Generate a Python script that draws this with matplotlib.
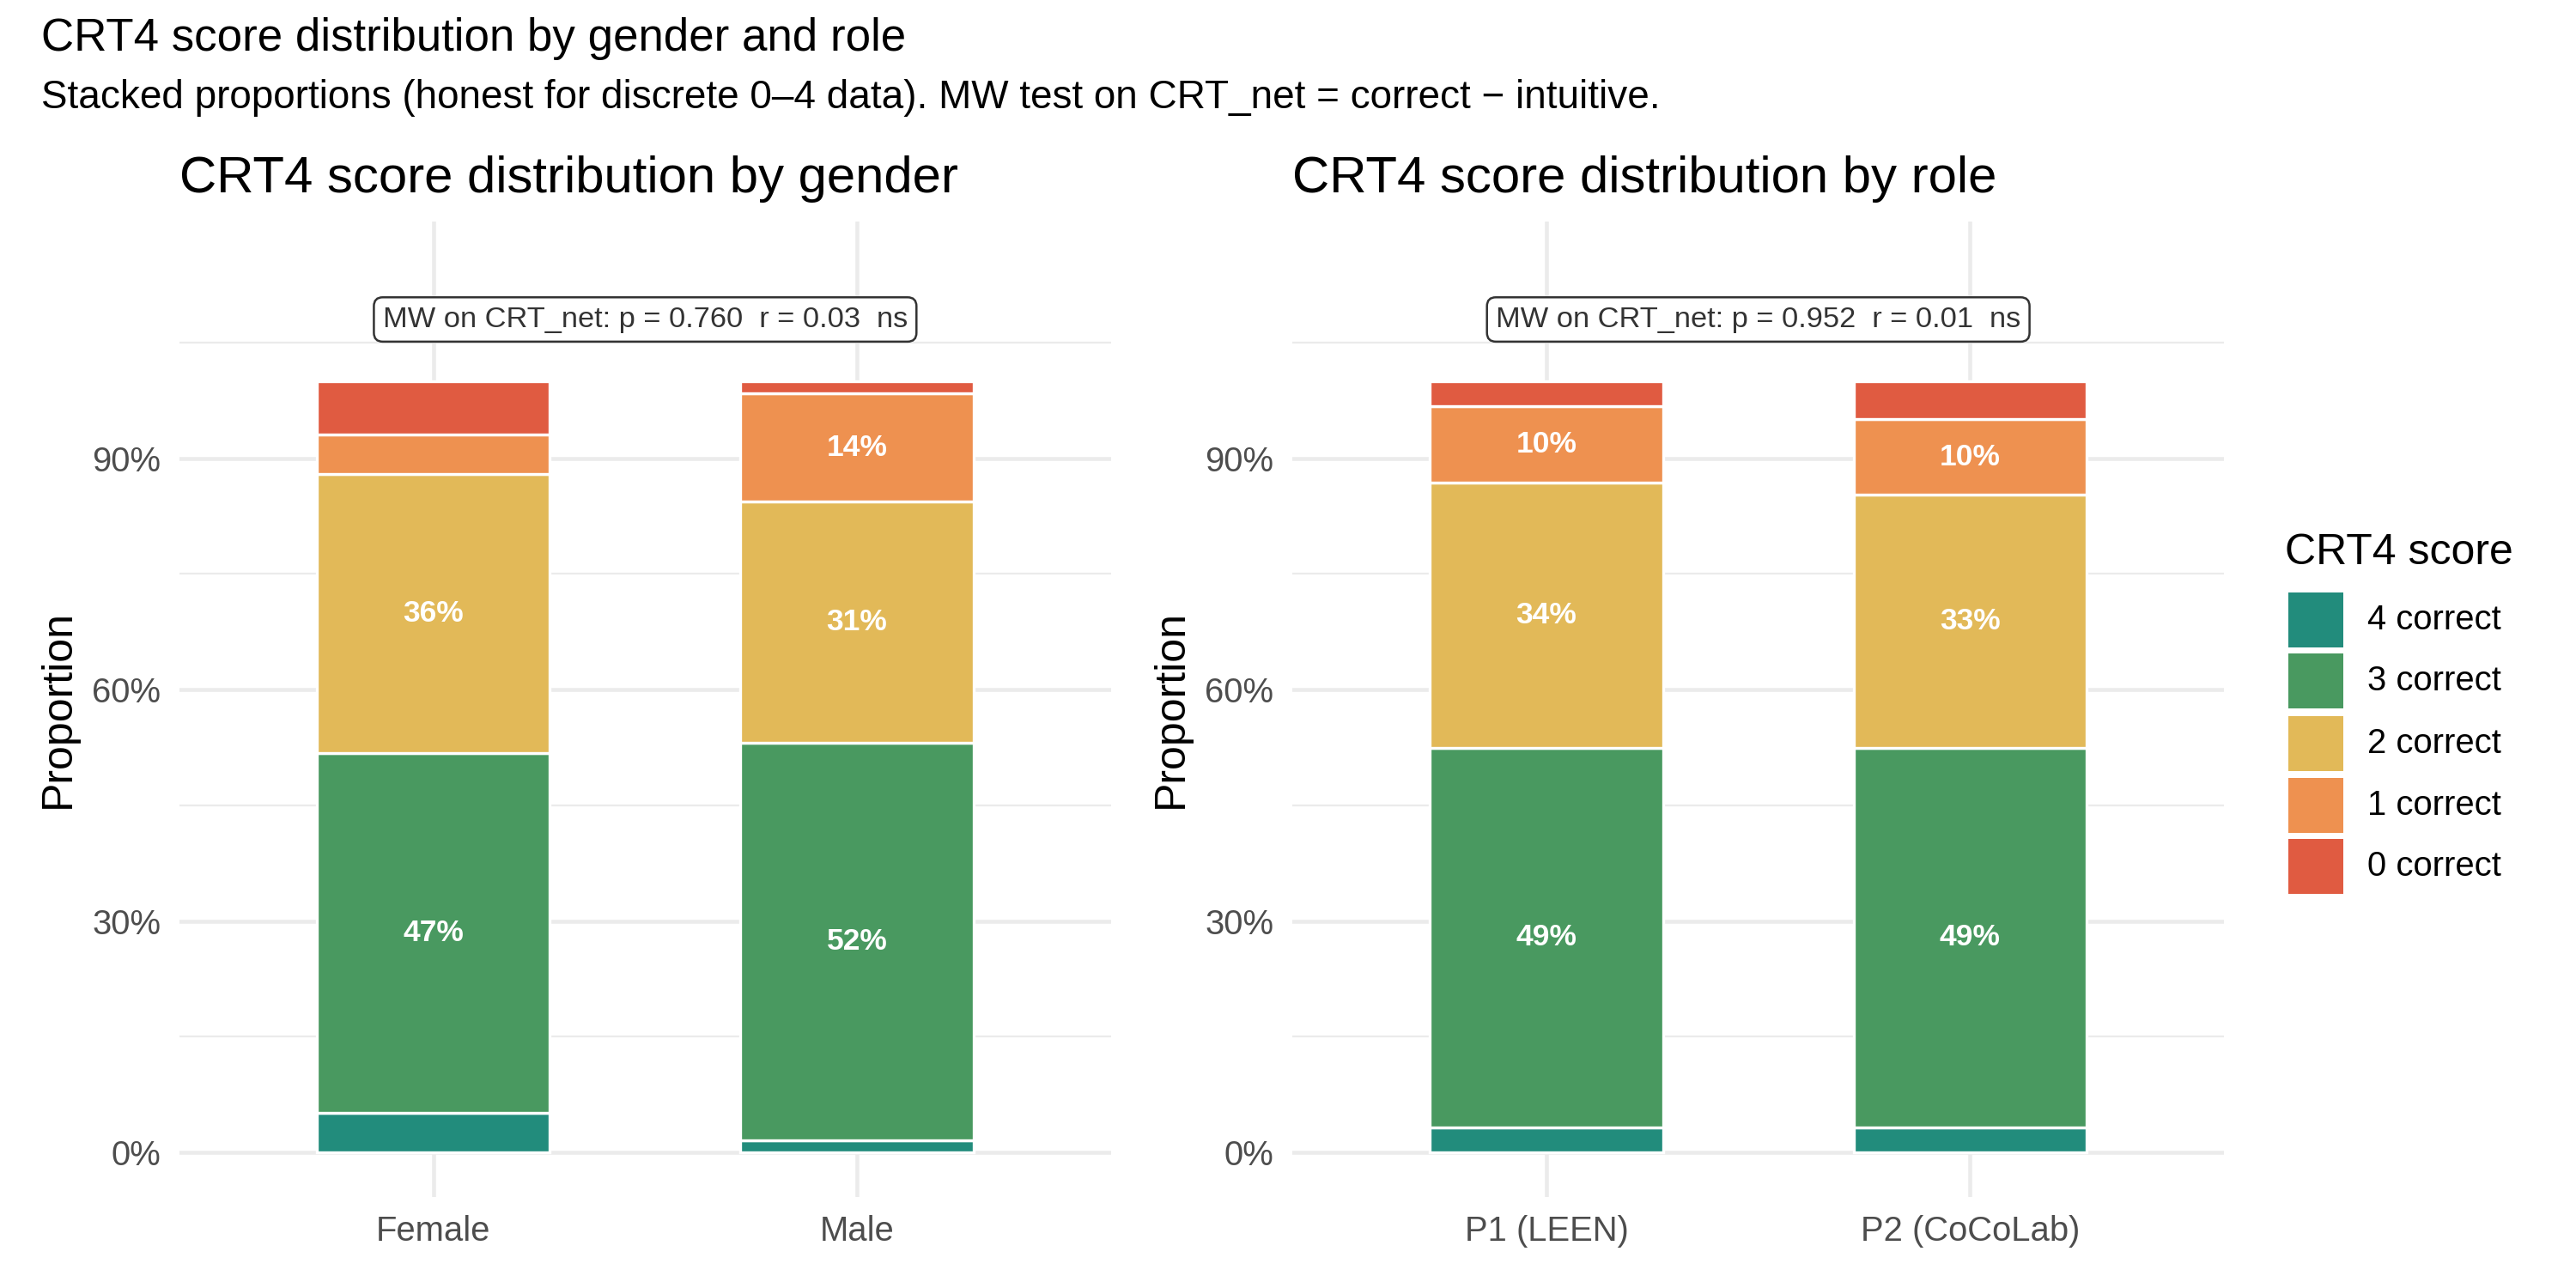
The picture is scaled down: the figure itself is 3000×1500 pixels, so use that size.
"""CRT4 score distribution by gender and role: stacked proportion bars, two panels."""
import numpy as np
import matplotlib
matplotlib.use("Agg")
import matplotlib.pyplot as plt
from matplotlib.patches import Rectangle
from matplotlib.ticker import FixedLocator, PercentFormatter

plt.rcParams["font.family"] = ["Liberation Sans", "DejaVu Sans"]

# score levels, bottom -> top of the stack
score_levels = ["4 correct", "3 correct", "2 correct", "1 correct", "0 correct"]
score_colors = ["#228C7C", "#499960", "#E2B958", "#EE9150", "#E05B41"]

# counts per score level (same order as score_levels)
gender_groups = ["Female", "Male"]
female_counts = [3, 27, 21, 3, 4]
male_counts = [1, 33, 20, 9, 1]

role_groups = ["P1 (LEEN)", "P2 (CoCoLab)"]
p1_counts = [2, 30, 21, 6, 2]
p2_counts = [2, 30, 20, 6, 3]

gender_test = "MW on CRT_net: p = 0.760  r = 0.03  ns"
role_test = "MW on CRT_net: p = 0.952  r = 0.01  ns"

GRID = "#EBEBEB"
TICK = "#4D4D4D"


def draw_panel(ax, groups, counts, test_label):
    props = np.array(counts, dtype=float)
    props = props / props.sum(axis=1, keepdims=True)
    x = np.arange(1, len(groups) + 1)
    bottom = np.zeros(len(groups))
    for j, col in enumerate(score_colors):
        h = props[:, j]
        ax.bar(x, h, bottom=bottom, width=0.55, color=col, edgecolor="white",
               linewidth=0.8, zorder=3)
        for xi, b, hi in zip(x, bottom, h):
            if hi >= 0.08:  # small segments stay unlabelled
                ax.text(xi, b + hi / 2, f"{hi * 100:.0f}%", ha="center", va="center",
                        color="white", fontweight="bold", fontsize=8.5, zorder=4)
        bottom += h

    ax.set_xlim(0.4, len(groups) + 0.6)
    ax.set_ylim(-0.0575, 1.2075)
    ax.set_xticks(x)
    ax.set_xticklabels(groups)
    ax.yaxis.set_major_locator(FixedLocator([0, 0.3, 0.6, 0.9]))
    ax.yaxis.set_minor_locator(FixedLocator([0.15, 0.45, 0.75, 1.05]))
    ax.yaxis.set_major_formatter(PercentFormatter(1.0, decimals=0))
    ax.tick_params(axis="both", which="both", length=0, pad=5.2, labelsize=9.6, labelcolor=TICK)
    ax.grid(which="major", color=GRID, linewidth=1.1, zorder=0)
    ax.grid(which="minor", axis="y", color=GRID, linewidth=0.55, zorder=0)
    ax.set_axisbelow(True)
    for s in ax.spines.values():
        s.set_visible(False)
    ax.set_ylabel("Proportion", fontsize=12, labelpad=4)

    ax.text((x[0] + x[-1]) / 2, 1.08, test_label, ha="center", va="center", fontsize=8.25,
            color="#333333", zorder=5,
            bbox=dict(boxstyle="round,pad=0.3,rounding_size=0.3", fc="white",
                      ec="#333333", lw=0.6))


fig = plt.figure(figsize=(10, 5), dpi=300)
ax1 = fig.add_axes([0.0696, 0.0709, 0.3617, 0.7574])
ax2 = fig.add_axes([0.5017, 0.0709, 0.3617, 0.7574])

draw_panel(ax1, gender_groups, [female_counts, male_counts], gender_test)
draw_panel(ax2, role_groups, [p1_counts, p2_counts], role_test)

fig.text(0.0696, 0.851, "CRT4 score distribution by gender", fontsize=14.4, va="baseline")
fig.text(0.5017, 0.851, "CRT4 score distribution by role", fontsize=14.4, va="baseline")

fig.text(0.016, 0.961, "CRT4 score distribution by gender and role", fontsize=12.7, va="baseline")
fig.text(0.016, 0.916,
         "Stacked proportions (honest for discrete 0\u20134 data). MW test on CRT_net = correct \u2212 intuitive.",
         fontsize=11, va="baseline")

# legend, drawn by hand so it sits where the reference has it
fig.text(0.887, 0.5622, "CRT4 score", fontsize=12, va="baseline")
row_y = [0.5189, 0.4711, 0.4229, 0.3749, 0.3271]
kw, kh = 0.0213, 0.0426
for lab, col, yc in zip(score_levels, score_colors, row_y):
    fig.add_artist(Rectangle((0.8883, yc - kh / 2), kw, kh, transform=fig.transFigure,
                             facecolor=col, edgecolor="none"))
    fig.text(0.9189, yc, lab, fontsize=9.6, va="center")

fig.savefig("out.png", dpi=300, facecolor="white")
